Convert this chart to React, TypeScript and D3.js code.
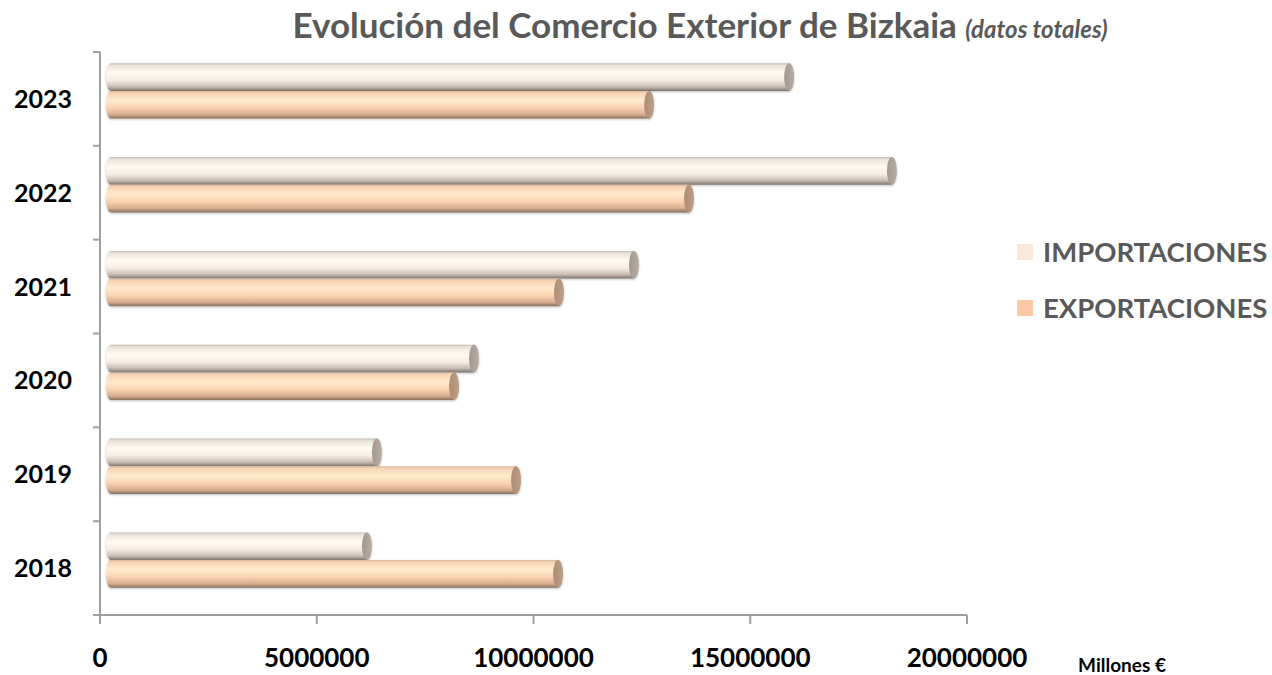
import React from 'react';
import * as d3 from 'd3';

const years = ['2023', '2022', '2021', '2020', '2019', '2018'];
const series = ['IMPORTACIONES', 'EXPORTACIONES'];
const importaciones = [15760000, 18130000, 12180000, 8490000, 6250000, 6020000];
const exportaciones = [12530000, 13450000, 10450000, 8030000, 9460000, 10430000];
const xTicks = [0, 5000000, 10000000, 15000000, 20000000];

const W = 1272;
const H = 675;
const FONT = 'Lato, "Open Sans", sans-serif';

// profundidad del efecto 3D
const DX = 6;
const DY = -8;

export default function App() {
  const x = d3.scaleLinear().domain([0, 20000000]).range([100, 967]);
  const y = d3.scaleBand<string>().domain(years).range([52, 615]).paddingInner(0.41).paddingOuter(0.205);
  const yInner = d3.scaleBand<string>().domain(series).range([0, y.bandwidth()]);
  const boundaries = d3.range(years.length + 1).map(i => 52 + i * (615 - 52) / years.length);

  const values: Record<string, number[]> = {
    IMPORTACIONES: importaciones,
    EXPORTACIONES: exportaciones,
  };

  // cilindro horizontal
  const cylinder = (x0: number, x1: number, top: number, h: number) => {
    const ry = h / 2;
    const rx = 5;
    const p = d3.path();
    p.moveTo(x0, top);
    p.lineTo(x1, top);
    p.lineTo(x1, top + h);
    p.lineTo(x0, top + h);
    p.bezierCurveTo(x0 - rx * 1.3, top + h, x0 - rx * 1.3, top, x0, top);
    p.closePath();
    return { body: p.toString(), cx: x1, cy: top + ry, rx, ry };
  };

  return (
    <svg width={W} height={H} style={{ position: 'absolute', left: 0, top: 0, background: '#fff' }}>
      <defs>
        <linearGradient id="gImp" x1="0" y1="0" x2="0" y2="1">
          <stop offset="0%" stopColor="#c4bbb3" />
          <stop offset="8%" stopColor="#ece2d8" />
          <stop offset="35%" stopColor="#fffbf3" />
          <stop offset="62%" stopColor="#f6ece3" />
          <stop offset="85%" stopColor="#c9bdb3" />
          <stop offset="100%" stopColor="#7f746d" />
        </linearGradient>
        <linearGradient id="gExp" x1="0" y1="0" x2="0" y2="1">
          <stop offset="0%" stopColor="#d8b9a0" />
          <stop offset="8%" stopColor="#f8d3b3" />
          <stop offset="35%" stopColor="#ffebcf" />
          <stop offset="62%" stopColor="#f9d2b0" />
          <stop offset="85%" stopColor="#d6ae8f" />
          <stop offset="100%" stopColor="#86705f" />
        </linearGradient>
        <linearGradient id="cImp" x1="0" y1="0" x2="1" y2="0">
          <stop offset="0%" stopColor="#a39890" />
          <stop offset="100%" stopColor="#b8ada3" />
        </linearGradient>
        <linearGradient id="cExp" x1="0" y1="0" x2="1" y2="0">
          <stop offset="0%" stopColor="#ad8b74" />
          <stop offset="100%" stopColor="#c09f87" />
        </linearGradient>
        <filter id="sh" x="-5%" y="-30%" width="110%" height="160%">
          <feDropShadow dx="0" dy="1" stdDeviation="0.8" floodColor="#000" floodOpacity="0.25" />
        </filter>
      </defs>

      {/* título */}
      <text x={700} y={38} textAnchor="middle" fontFamily={FONT} fill="#595959">
        <tspan fontSize={35} fontWeight={700}>Evolución del Comercio Exterior de Bizkaia </tspan>
        <tspan fontSize={24} fontWeight={700} fontStyle="italic">(datos totales)</tspan>
      </text>

      {/* ejes */}
      <g stroke="#a0a0a0" strokeWidth={2} fill="none">
        <line x1={100} x2={100} y1={52} y2={616} />
        <line x1={99} x2={967} y1={615} y2={615} />
        {boundaries.map((b, i) => (
          <line key={i} x1={93} x2={100} y1={b} y2={b} />
        ))}
        {xTicks.map(t => (
          <line key={t} x1={x(t)} x2={x(t)} y1={615} y2={624} />
        ))}
      </g>

      {/* barras */}
      {years.map((yr, i) => (
        <g key={yr}>
          {series.map(s => {
            const top = (y(yr) as number) + (yInner(s) as number) + DY;
            const c = cylinder(x(0) + DX + 5, x(values[s][i]) + DX, top, yInner.bandwidth());
            const imp = s === 'IMPORTACIONES';
            return (
              <g key={s} filter="url(#sh)">
                <path d={c.body} fill={imp ? 'url(#gImp)' : 'url(#gExp)'} />
                <ellipse cx={c.cx} cy={c.cy} rx={c.rx} ry={c.ry} fill={imp ? 'url(#cImp)' : 'url(#cExp)'} />
              </g>
            );
          })}
        </g>
      ))}

      {/* etiquetas eje Y */}
      {years.map(yr => (
        <text key={yr} x={72} y={(y(yr) as number) + y.bandwidth() / 2 + 9} textAnchor="end"
          fontFamily={FONT} fontWeight={700} fontSize={25} fill="#000">{yr}</text>
      ))}

      {/* etiquetas eje X */}
      {xTicks.map(t => (
        <text key={t} x={x(t)} y={667} textAnchor="middle" fontFamily={FONT} fontWeight={700}
          fontSize={26} fill="#000">{t}</text>
      ))}
      <text x={1122} y={672} textAnchor="middle" fontFamily={FONT} fontWeight={700} fontSize={19} fill="#000">Millones €</text>

      {/* leyenda */}
      {series.map((s, i) => (
        <g key={s} transform={`translate(1017,${252 + i * 56})`}>
          <rect x={0} y={-8} width={16} height={16} fill={i === 0 ? '#fce8da' : '#fbcaa5'} />
          <text x={26} y={10} fontFamily={FONT} fontWeight={700} fontSize={27.5} fill="#595959">{s}</text>
        </g>
      ))}
    </svg>
  );
}
